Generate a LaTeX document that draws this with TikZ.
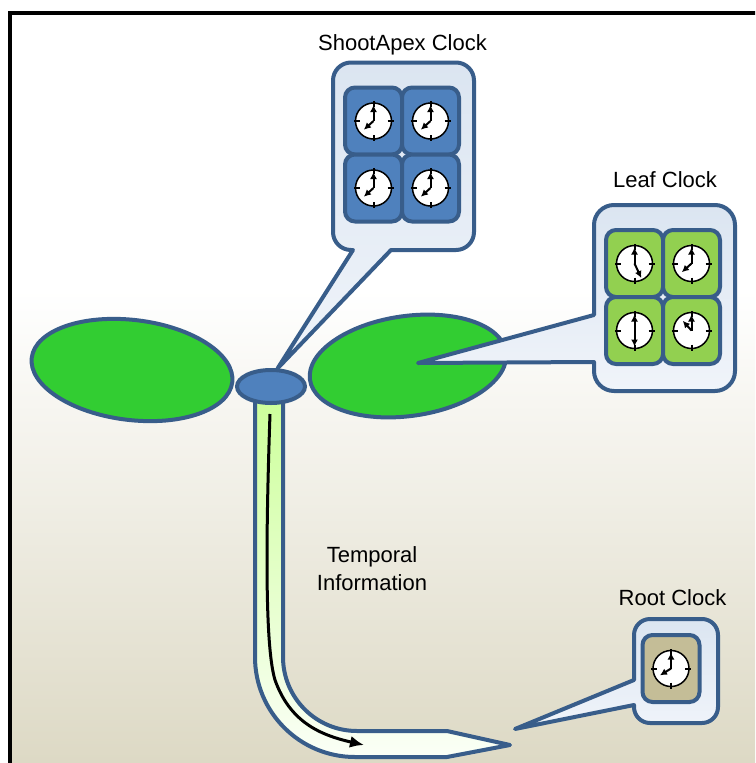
\documentclass[tikz,border=0pt]{standalone}
\usepackage{fontspec}
\setmainfont{Liberation Sans}
\usetikzlibrary{arrows.meta,positioning,shapes.geometric}

\definecolor{edgeblue}{RGB}{56,93,138}
\definecolor{apexblue}{RGB}{79,129,189}
\definecolor{leafgreen}{RGB}{50,205,50}
\definecolor{tilegreen}{RGB}{146,208,80}
\definecolor{tiletan}{RGB}{196,189,151}
\definecolor{bubbletop}{RGB}{219,229,241}
\definecolor{bubblebottom}{RGB}{240,244,250}
\definecolor{stemgreen}{RGB}{204,255,153}
\definecolor{soiltan}{RGB}{220,216,195}

\tikzset{
  outline/.style={draw=edgeblue,line width=4pt},
  leaf/.style={outline,ellipse,fill=leafgreen,inner sep=0pt},
  bubble/.style={outline,top color=bubbletop,bottom color=bubblebottom,line join=round},
  tile/.style={outline,rounded corners=10pt,minimum width=57pt,minimum height=67pt,inner sep=0pt},
  tagtext/.style={font=\fontsize{22}{28}\selectfont,text=black,inner sep=0pt},
  clockrim/.style={draw=black,fill=white,line width=1.5pt},
  hand/.style={line width=2pt,-{Latex[length=7pt,width=7pt]}},
  signal/.style={line width=3pt,-{Latex[length=14pt,width=12pt]}},
}

% #1 tile name, #2 hour hand angle, #3 hour hand length
\newcommand\clockface[3]{%
  \draw[clockrim] (#1.center) circle[radius=18pt];
  \foreach \a in {0,90,180,270}
    \draw[line width=2pt] (#1.center) +(\a:14pt) -- +(\a:20pt);
  \draw[hand] (#1.center) -- +(90:16pt);
  \draw[hand] (#1.center) -- +(#2:#3pt);
}

\begin{document}
\begin{tikzpicture}[x=1pt,y=1pt,>=Latex]
\useasboundingbox (0,0) rectangle (755,-763);
\clip (0,0) rectangle (755,-763);
\fill[white] (0,0) rectangle (755,-763);
\fill[white] (10,-12) rectangle (770,-290);
\shade[top color=white,bottom color=soiltan] (10,-290) rectangle (770,-775);
\draw[line width=4pt] (770,-12.5) -- (9.5,-12.5) -- (9.5,-775);

\draw[outline,top color=stemgreen,bottom color=stemgreen!8!white,line join=round] (255,-395) -- (255,-657) arc[start angle=180,end angle=270,radius=100] -- (447,-757) -- (510,-745) -- (447,-731) -- (357,-731) arc[start angle=270,end angle=180,radius=74] -- (283,-395) -- cycle;
\coordinate (signalstart) at (270,-414);
\coordinate (signalend) at (364,-745);
\draw[signal] (signalstart) .. controls (265,-560) and (266,-650) .. (275,-680) .. controls (290,-722) and (320,-735) .. (signalend);

\node[leaf,minimum width=202pt,minimum height=100pt,rotate=-7] (leftleaf) at (132,-370) {};
\node[leaf,minimum width=198pt,minimum height=100pt,rotate=8] (rightleaf) at (408,-366) {};
\node[outline,ellipse,fill=apexblue,inner sep=0pt,minimum width=68pt,minimum height=33pt] (apex) at (271,-386.5) {};

\coordinate (leafpoint) at (418,-363);
\coordinate (rootpoint) at (515,-729);
\draw[bubble] (apex.70) -- (353,-250) -- (351,-250) arc[start angle=270,end angle=180,radius=18] -- (333,-80.5) arc[start angle=180,end angle=90,radius=18] -- (456,-62.5) arc[start angle=90,end angle=0,radius=18] -- (474,-232) arc[start angle=0,end angle=-90,radius=18] -- (391,-250) -- cycle;
\draw[bubble] (leafpoint) -- (594,-362) -- (594,-371) arc[start angle=180,end angle=270,radius=20] -- (715,-391) arc[start angle=270,end angle=360,radius=20] -- (735,-225) arc[start angle=0,end angle=90,radius=20] -- (614,-205) arc[start angle=90,end angle=180,radius=20] -- (594,-315) -- cycle;
\draw[bubble] (rootpoint) -- (634,-705) -- (634,-707) arc[start angle=180,end angle=270,radius=16] -- (702,-723) arc[start angle=270,end angle=360,radius=16] -- (718,-635) arc[start angle=0,end angle=90,radius=16] -- (650,-619) arc[start angle=90,end angle=180,radius=16] -- (634,-680) -- cycle;

\node[tile,fill=apexblue] (apex1) at (373.5,-121) {};
\node[tile,fill=apexblue] (apex2) at (430.5,-121) {};
\node[tile,fill=apexblue] (apex3) at (373.5,-188) {};
\node[tile,fill=apexblue] (apex4) at (430.5,-188) {};
\node[tile,fill=tilegreen] (leaf1) at (634.5,-263.5) {};
\node[tile,fill=tilegreen] (leaf2) at (691.5,-263.5) {};
\node[tile,fill=tilegreen] (leaf3) at (634.5,-330.5) {};
\node[tile,fill=tilegreen] (leaf4) at (691.5,-330.5) {};
\node[tile,fill=tiletan] (root1) at (671,-668.5) {};

\clockface{apex1}{222}{13}
\clockface{apex2}{222}{13}
\clockface{apex3}{222}{13}
\clockface{apex4}{222}{13}
\clockface{leaf1}{-65}{16}
\clockface{leaf2}{222}{13}
\clockface{leaf3}{-90}{16}
\clockface{leaf4}{132}{13}
\clockface{root1}{212}{13}

\node[tagtext,anchor=base] (apextitle) at (402.5,-50) {ShootApex Clock};
\node[tagtext,anchor=base] (leaftitle) at (665,-187) {Leaf Clock};
\node[tagtext,anchor=base] (roottitle) at (672.5,-605) {Root Clock};
\node[tagtext,align=center] (signaltext) at (372,-569) {Temporal\\Information};
\end{tikzpicture}
\end{document}
